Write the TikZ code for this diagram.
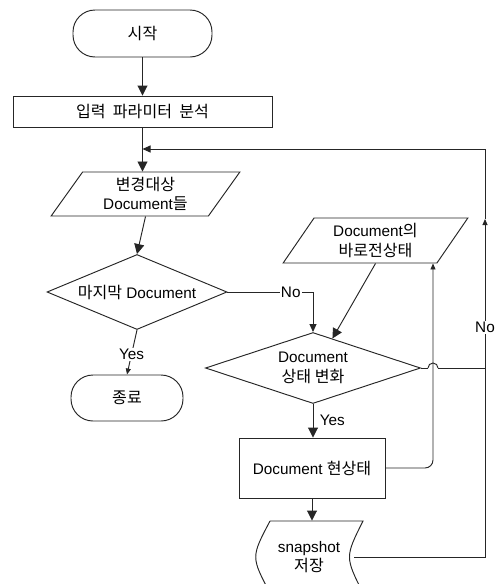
\documentclass[tikz,border=0pt]{standalone}
\usepackage{fontspec}
\setmainfont{Liberation Sans}
\newfontfamily\kr{Noto Sans CJK KR}[Scale=1.05]
\usepackage{tikz}
\usetikzlibrary{arrows.meta,shapes.geometric,calc}

\begin{document}
\begin{tikzpicture}[
  x=1pt, y=-1pt,
  font=\fontsize{15.3}{19.5}\selectfont,
  line width=0.95pt,
  draw=black!85,
  term/.style={rectangle, rounded corners=22pt, draw, align=center, inner sep=0pt},
  proc/.style={rectangle, draw, align=center, inner sep=0pt},
  para/.style={trapezium, trapezium left angle=58, trapezium right angle=122,
               trapezium stretches=true, draw, align=center, inner sep=0pt},
  dec/.style={diamond, draw, align=center, inner sep=0pt},
  arr/.style={-{Triangle[length=10pt,width=10pt]}},
  arrm/.style={-{Triangle[length=8pt,width=7pt]}},
  arrs/.style={-{Triangle[length=6pt,width=5pt]}},
  lbl/.style={fill=white, inner sep=1pt}
]
\useasboundingbox (0,0) rectangle (500,584);
\clip (0,0) rectangle (500,584);

% Main column
\node[term, minimum width=139pt, minimum height=47pt] (start) at (142.5,33.5) {\kr 시작};
\node[proc, minimum width=259pt, minimum height=31pt] (init) at (142.5,111.5) {\kr 입력\ \ 파라미터\ \ 분석};
\node[para, minimum width=189pt, minimum height=44pt] (docs) at (145.5,194) {{\kr 변경대상}\\Document{\kr 들}};
\node[dec, aspect=2.4, minimum width=180pt, minimum height=75pt] (dec1) at (137,292) {{\kr 마지막} Document};
\node[term, minimum width=112pt, minimum height=46pt] (fin) at (127,398) {\kr 종료};

% Right column
\node[para, minimum width=185pt, minimum height=45pt] (prev) at (375.5,240.5) {Document{\kr 의}\\{\kr 바로전상태}};
\node[dec, aspect=3, minimum width=215pt, minimum height=71pt] (dec2) at (313,368) {Document\\{\kr 상태 변화}};
\node[proc, minimum width=146pt, minimum height=60pt] (cur) at (312,468) {Document {\kr 현상태}};
\node[align=center, minimum width=80pt, minimum height=72pt, inner sep=0pt] (snap) at (309,557) {snapshot\\{\kr 저장}};
\draw (snap.center) ++(-39,-36) -- ++(93,0)
      .. controls ($(snap.center)+(36,0)$) .. ($(snap.center)+(54,36)$)
      -- ($(snap.center)+(-39,36)$)
      .. controls ($(snap.center)+(-58,0)$) .. ($(snap.center)+(-39,-36)$);

\coordinate (snapout) at ($(snap.center)+(45,0)$);
\coordinate (rbot) at (485,557);
\coordinate (rmid) at (485,219);
\coordinate (rtop) at (485,149);
\coordinate (previn) at ([xshift=57.5pt]prev.south);
\coordinate (hitp) at ($(dec2.north)!0.18!(dec2.east)$);

% Arrows
\draw[arr] (start) -- (init);
\draw[arr] (init.south) -- (init.south |- docs.north);
\draw[arr] (docs.south) -- (dec1.north);
\draw[arrs] (dec1.south) -- node[lbl, pos=0.55]{Yes} (fin.north);
\draw[arrm] (dec1.east) -| node[lbl, pos=0.37]{No} (dec2.north);
\draw[arr] (prev.south) -- (hitp);
\draw[arr] (dec2.south) -- node[right=3pt]{Yes} (dec2.south |- cur.north);
\draw[arr] (cur.south) -- (cur.south |- snap.north);
\draw[arrs, rounded corners=8pt] (cur.east) -| (previn);

% Loop back
\draw ($(previn |- dec2.east)+(-5,0)$) arc (180:0:5pt);
\draw (dec2.east) -- ($(previn |- dec2.east)+(-5,0)$);
\draw ($(previn |- dec2.east)+(5,0)$) -- (dec2.east -| rbot);
\draw[arrs] (snapout) -- (rbot) -- node[lbl, pos=0.68]{No} (rmid);
\draw[arrm] (rmid) -- (rtop) -- (init.south |- rtop);

\end{tikzpicture}
\end{document}
